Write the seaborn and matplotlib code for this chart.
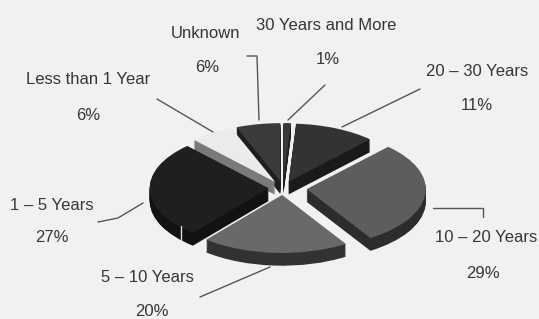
import matplotlib
matplotlib.use("Agg")
import matplotlib.pyplot as plt
import seaborn as sns

# dados (ordem no sentido horario a partir do topo)
categorias = ["30 Years and More", "20 – 30 Years", "10 – 20 Years",
              "5 – 10 Years", "1 – 5 Years", "Less than 1 Year", "Unknown"]
percentuais = [1, 11, 29, 20, 27, 6, 6]

# estilo
sns.set_theme(style="white")
plt.rcParams['font.family'] = ['Liberation Sans', 'DejaVu Sans']

cores_topo = ["#39393b", "#333336", "#5d5d60", "#69696b", "#1f1f21", "#ebebea", "#3b3b3d"]
cores_lado = ["#1c1c1e", "#1a1a1c", "#2c2c2e", "#323234", "#121213", "#7a7a7a", "#1e1e20"]
explode = [0.12, 0.12, 0.2, 0.12, 0.12, 0.12, 0.12]

fundo = "#f1f1ef"
fig = plt.figure(figsize=(5.39, 3.19), dpi=100, facecolor=fundo)

# eixo da pizza (achatado para parecer 3D)
ax = fig.add_axes([0, 0, 1, 1])
ax.set_facecolor(fundo)
sx, sy = 119, 58          # pixels por unidade
cx, cy = 283, 188         # centro em pixels
profundidade = 0.22
n_camadas = 14
for k in range(n_camadas, 0, -1):
    dz = profundidade * k / n_camadas
    ax.pie(percentuais, radius=1, center=(0, -dz), explode=explode,
           startangle=90, counterclock=False, colors=cores_lado,
           wedgeprops=dict(linewidth=0))
ax.pie(percentuais, radius=1, center=(0, 0), explode=explode,
       startangle=90, counterclock=False, colors=cores_topo,
       wedgeprops=dict(linewidth=0))
ax.set_aspect('auto')
ax.set_xlim(-cx / sx, (539 - cx) / sx)
ax.set_ylim(-(319 - cy) / sy, cy / sy)
ax.axis('off')

# camada de anotacoes em pixels
ov = fig.add_axes([0, 0, 1, 1])
ov.set_xlim(0, 539)
ov.set_ylim(319, 0)
ov.axis('off')
ov.patch.set_alpha(0)

rotulos = {
    "Unknown": (206, 33, 207, 68),
    "30 Years and More": (326, 25, 328, 60),
    "20 – 30 Years": (477, 72, 477, 105),
    "Less than 1 Year": (88, 80, 88, 115),
    "1 – 5 Years": (52, 205, 52, 238),
    "5 – 10 Years": (147, 277, 152, 312),
    "10 – 20 Years": (486, 238, 483, 273),
}
for cat, p in zip(categorias, percentuais):
    x1, y1, x2, y2 = rotulos[cat]
    ov.text(x1, y1, cat, ha='center', va='center', fontsize=12, color='#363636')
    ov.text(x2, y2, f"{p}%", ha='center', va='center', fontsize=12, color='#363636')

linhas = [
    [(157, 99), (213, 132)],
    [(247, 56), (257, 56), (259, 120)],
    [(325, 85), (288, 120)],
    [(420, 89), (342, 127)],
    [(433, 208), (483, 208), (483, 217)],
    [(98, 222), (118, 218), (143, 203)],
    [(200, 297), (270, 267)],
]
for pts in linhas:
    xs, ys = zip(*pts)
    ov.plot(xs, ys, color='#555555', lw=1)

# pequeno traco claro na lateral de 1-5 anos
ov.plot([181, 181], [226, 240], color='#dddddd', lw=1)

plt.savefig("out.png", dpi=100, facecolor=fundo)
